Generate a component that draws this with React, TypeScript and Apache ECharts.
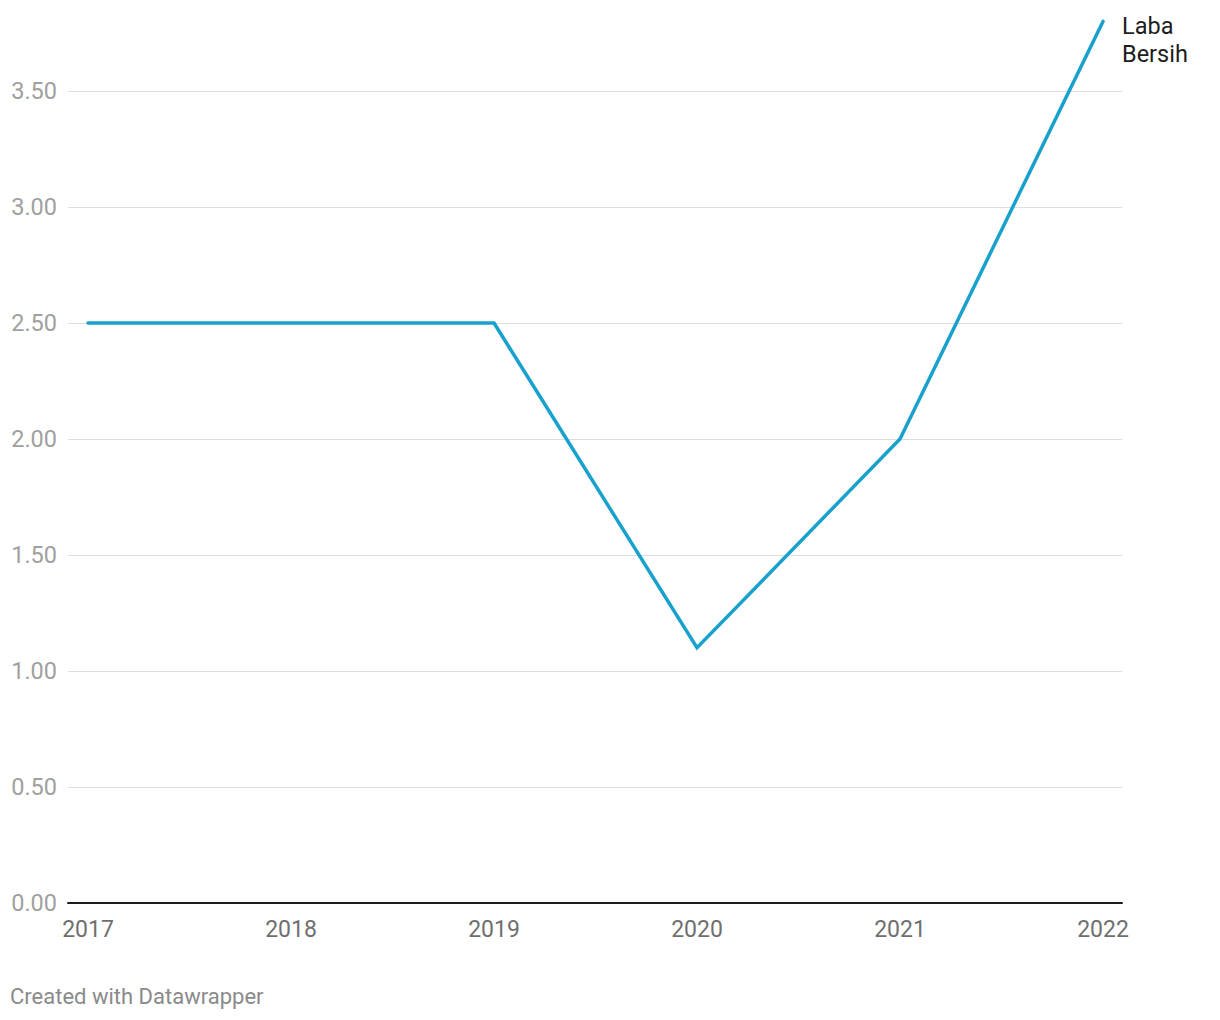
import React, { useEffect, useRef } from "react";
import * as echarts from "echarts";

const years = ["2017", "2018", "2019", "2020", "2021", "2022"];
const labaBersih = [2.5, 2.5, 2.5, 1.1, 2.0, 3.8];
const seriesName = "Laba\nBersih";
const credit = "Created with Datawrapper";

export default function App() {
  const ref = useRef<HTMLDivElement>(null);
  useEffect(() => {
    if (!ref.current) return;
    const chart = echarts.init(ref.current, null, { renderer: "svg" });
    const font = "Roboto";
    chart.setOption({
      animation: false,
      textStyle: { fontFamily: font },
      grid: [
        { left: 68, right: 98, top: 91, bottom: 117 },
        { left: 88, right: 117, top: 91, bottom: 117 },
      ],
      xAxis: [
        {
          gridIndex: 0,
          type: "value",
          min: 0,
          max: 1,
          axisLine: { show: true, lineStyle: { color: "#1d1d1d", width: 2 } },
          axisTick: { show: false },
          axisLabel: { show: false },
          splitLine: { show: false },
        },
        {
          gridIndex: 1,
          type: "category",
          data: years,
          boundaryGap: false,
          axisLine: { show: false },
          axisTick: { show: false },
          splitLine: { show: false },
          axisLabel: {
            color: "#6f6f6f",
            fontSize: 23,
            fontFamily: font,
            margin: 15,
          },
        },
      ],
      yAxis: [
        {
          gridIndex: 0,
          type: "value",
          min: 0,
          max: 3.5,
          interval: 0.5,
          axisLine: { show: false },
          axisTick: { show: false },
          axisLabel: {
            color: "#a0a0a0",
            fontSize: 23.5,
            fontFamily: font,
            margin: 11,
            formatter: (v: number) => v.toFixed(2),
          },
          splitLine: { show: true, lineStyle: { color: "#dedede", width: 1 } },
        },
        {
          gridIndex: 1,
          type: "value",
          min: 0,
          max: 3.5,
          interval: 0.5,
          show: false,
          splitLine: { show: false },
        },
      ],
      series: [
        {
          type: "line",
          name: "Laba Bersih",
          xAxisIndex: 1,
          yAxisIndex: 1,
          data: labaBersih,
          clip: false,
          showSymbol: false,
          symbol: "none",
          lineStyle: { color: "#18a1cd", width: 3.5, cap: "round", join: "miter" },
          itemStyle: { color: "#18a1cd" },
          endLabel: {
            show: true,
            formatter: () => seriesName,
            color: "#1d1d1d",
            fontSize: 23.5,
            fontFamily: font,
            lineHeight: 28,
            align: "left",
            verticalAlign: "top",
            distance: 19,
            offset: [0, -9],
          },
        },
      ],
      graphic: [
        {
          type: "text",
          left: 10,
          top: 985,
          style: {
            text: credit,
            fill: "#8a8a8a",
            fontSize: 22,
            fontFamily: font,
          },
        },
      ],
    });
    return () => chart.dispose();
  }, []);
  return (
    <div
      ref={ref}
      style={{ position: "fixed", left: 0, top: 0, width: 1220, height: 1020, background: "#fff" }}
    />
  );
}
